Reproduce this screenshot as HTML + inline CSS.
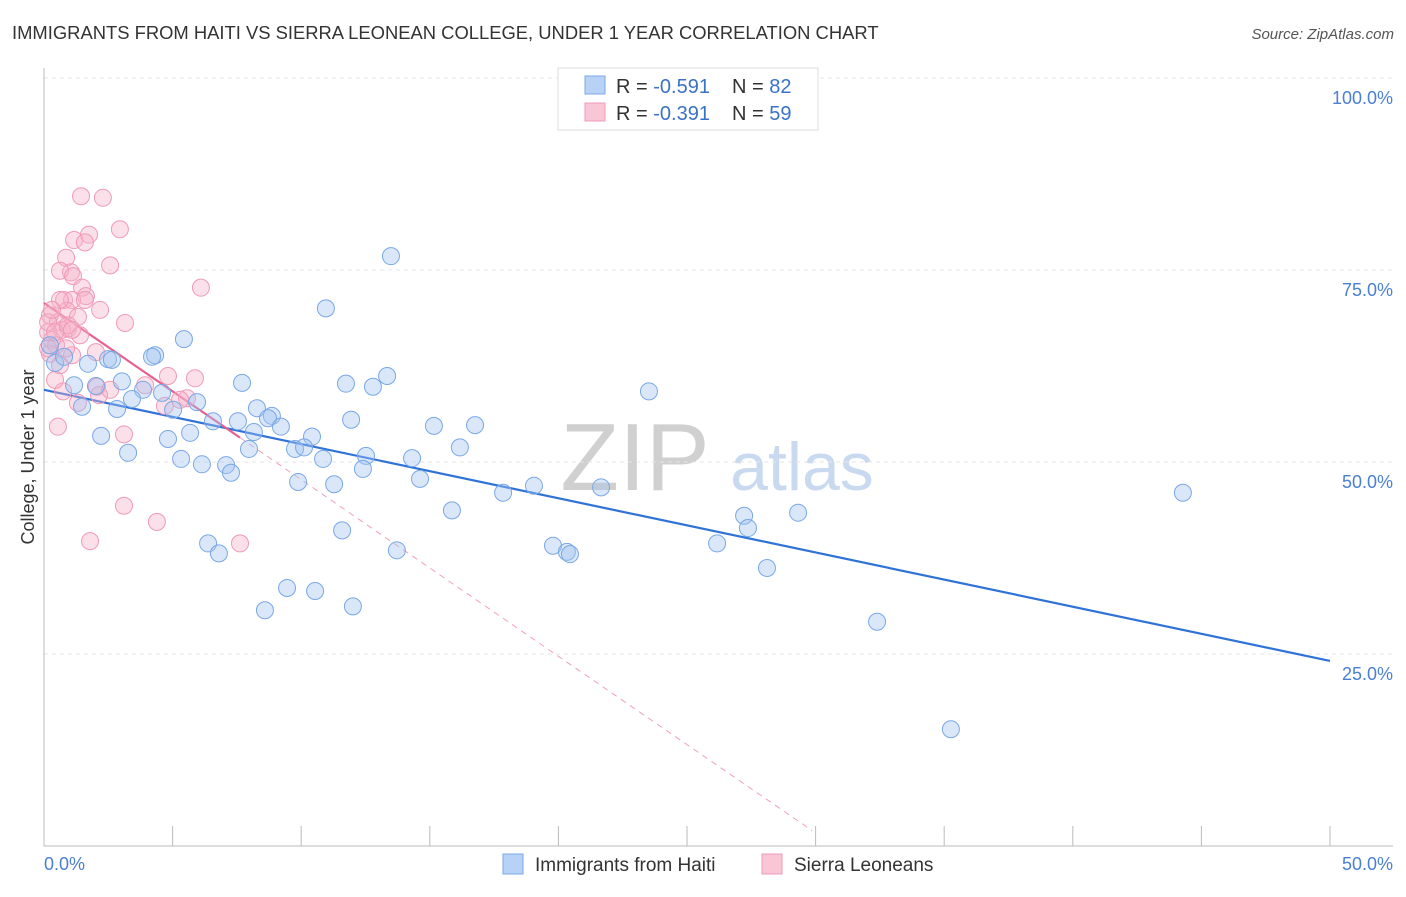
<!DOCTYPE html>
<html><head><meta charset="utf-8"><style>
body{margin:0;background:#fff;font-family:"Liberation Sans",sans-serif;}
svg text{font-family:"Liberation Sans",sans-serif;}
</style></head><body>
<svg id="chart" width="1406" height="892" xmlns="http://www.w3.org/2000/svg">
<text x="12" y="39" font-size="18.4" fill="#333">IMMIGRANTS FROM HAITI VS SIERRA LEONEAN COLLEGE, UNDER 1 YEAR CORRELATION CHART</text>
<text x="1394" y="39" font-size="15" fill="#555" text-anchor="end" font-style="italic">Source: ZipAtlas.com</text>
<text x="635" y="490" font-size="96" fill="#d0d0d0" font-family="Liberation Serif" text-anchor="middle">ZIP</text>
<text x="802" y="490" font-size="68" fill="#c9daf0" text-anchor="middle">atlas</text>
<text transform="translate(34,457) rotate(-90)" font-size="18" fill="#333" text-anchor="middle">College, Under 1 year</text>
<g id="grid"></g><g id="axes"></g><g id="lines"></g><g id="pts"></g>
<g>
<rect x="558" y="68" width="260" height="62" fill="#fff" stroke="#ddd"/>
<rect x="585" y="76" width="20" height="18" fill="#b8d2f5" stroke="#7aa8e6"/>
<text x="616" y="93" font-size="20" fill="#333">R = <tspan fill="#3a72c8">-0.591</tspan></text>
<text x="732" y="93" font-size="20" fill="#333">N = <tspan fill="#3a72c8">82</tspan></text>
<rect x="585" y="103" width="20" height="18" fill="#f9c6d6" stroke="#f09ab8"/>
<text x="616" y="120" font-size="20" fill="#333">R = <tspan fill="#3a72c8">-0.391</tspan></text>
<text x="732" y="120" font-size="20" fill="#333">N = <tspan fill="#3a72c8">59</tspan></text>
</g>
<g>
<rect x="503" y="854" width="20" height="20" fill="#b8d2f5" stroke="#7aa8e6"/>
<text x="535" y="871" font-size="19" fill="#333">Immigrants from Haiti</text>
<rect x="762" y="854" width="20" height="20" fill="#f9c6d6" stroke="#f09ab8"/>
<text x="794" y="871" font-size="19" fill="#333">Sierra Leoneans</text>
</g>
</svg>
<script>
const blueX=[13.49,10.96,5.44,4.32,4.20,2.49,2.64,1.71,0.43,0.78,0.23,3.03,1.17,2.02,7.70,11.74,13.34,12.79,3.85,4.59,5.95,23.52,1.48,2.84,3.42,5.02,8.28,8.86,8.71,11.94,7.54,6.57,9.21,16.76,15.16,8.16,2.22,5.68,4.82,10.42,16.17,3.27,5.33,6.14,7.08,7.27,7.97,9.76,10.11,10.85,12.52,14.31,12.40,14.62,9.88,11.28,17.85,19.05,21.66,44.28,15.86,27.22,29.32,27.37,11.59,26.17,19.79,20.33,20.45,6.38,6.80,13.72,28.11,9.45,10.54,12.01,8.59,32.39,35.26];
const blueY=[76.8,70.0,66.0,63.9,63.7,63.4,63.3,62.8,62.9,63.7,65.2,60.5,60.0,59.9,60.3,60.2,61.2,59.8,59.4,59.0,57.8,59.2,57.2,56.9,58.2,56.8,57.0,56.0,55.7,55.5,55.3,55.3,54.6,54.8,54.7,53.9,53.4,53.8,53.0,53.3,51.9,51.2,50.4,49.7,49.6,48.6,51.7,51.7,51.9,50.4,50.8,50.5,49.1,47.8,47.4,47.1,46.0,46.9,46.7,46.0,43.7,43.0,43.4,41.4,41.1,39.4,39.1,38.3,38.0,39.4,38.1,38.5,36.2,33.6,33.2,31.2,30.7,29.2,15.2];
const pinkX=[1.44,2.29,2.95,1.75,1.17,1.59,0.86,2.57,1.05,0.62,1.13,6.10,1.48,1.63,0.78,1.09,2.18,0.89,1.32,0.23,3.15,0.54,0.93,0.70,1.40,0.16,0.31,0.47,0.23,2.02,1.09,0.62,4.82,3.93,5.87,0.74,2.06,2.14,1.32,4.70,5.56,0.54,3.11,3.11,4.39,1.79,7.62,0.16,0.43,0.86,0.16,0.93,1.59,0.43,0.62,0.31,1.09,2.57,5.29];
const pinkY=[84.6,84.4,80.3,79.6,78.9,78.6,76.6,75.6,74.7,74.9,74.2,72.7,72.7,71.6,71.1,71.1,69.8,69.7,68.9,69.1,68.1,68.2,67.4,67.2,66.5,66.9,65.9,65.2,64.1,64.3,63.9,62.6,61.2,60.0,60.9,59.2,59.8,58.7,57.7,57.3,58.3,54.6,53.6,44.3,42.2,39.7,39.4,68.2,66.9,64.8,64.8,67.8,71.1,60.7,71.1,69.8,67.2,59.4,58.1];
const blueFit=[59.4,-0.706];
const pinkFit=[70.7,-2.3];
const yTicks=[25,50,75,100];
const yTickLabels=["25.0%","50.0%","75.0%","100.0%"];
const xTicks=[0,5,10,15,20,25,30,35,40,45,50];

const NS="http://www.w3.org/2000/svg";
const X=v=>44+v/50*1286, Y=v=>846-v/100*768;
function mk(p,t,a){const e=document.createElementNS(NS,t);for(const k in a)e.setAttribute(k,a[k]);document.getElementById(p).appendChild(e);return e;}
yTicks.forEach((t,i)=>{
 const g=mk('grid','line',{x1:44,x2:1393,y1:Y(t),y2:Y(t),stroke:'#e6e6e6','stroke-dasharray':'4,4'});
 
 
 const l=mk('grid','text',{x:1393,y:Y(t)+26,'font-size':18,fill:'#4a80d2','text-anchor':'end'});
 l.textContent=yTickLabels[i];
 
 
});
const ax=mk('axes','line',{x1:44,x2:44,y1:68,y2:846,stroke:'#bbb'});


const bx=mk('axes','line',{x1:44,x2:1393,y1:846,y2:846,stroke:'#bbb'});


xTicks.forEach(t=>{const k=mk('axes','line',{x1:X(t),x2:X(t),y1:826,y2:846,stroke:'#bbb'});
 
 });
const x0=mk('axes','text',{x:44,y:870,'font-size':18,fill:'#4a80d2'});x0.textContent=xTicks[0].toFixed(1)+'%';


const x1=mk('axes','text',{x:1393,y:870,'font-size':18,fill:'#4a80d2','text-anchor':'end'});x1.textContent=xTicks[xTicks.length-1].toFixed(1)+'%';


function pts(xs,ys,fill,stroke,name){xs.forEach((v,i)=>{const c=mk('pts','circle',{cx:X(v),cy:Y(ys[i]),r:8.5,fill:fill,stroke:stroke,'stroke-width':1});
 
 });}
pts(pinkX,pinkY,'rgba(246,178,200,0.4)','#f09ab8','point-sierra');
pts(blueX,blueY,'rgba(160,196,240,0.4)','#7aa8e6','point-haiti');
const bl=mk('lines','line',{x1:X(0),y1:Y(blueFit[0]),x2:X(50),y2:Y(blueFit[0]+blueFit[1]*50),stroke:'#2f72d8','stroke-width':2.2});


const pe=Math.max(...pinkX);
const ps=mk('lines','line',{x1:X(0),y1:Y(pinkFit[0]),x2:X(pe),y2:Y(pinkFit[0]+pinkFit[1]*pe),stroke:'#e8608e','stroke-width':2.2});


const xe=(2-pinkFit[0])/pinkFit[1];
const pd=mk('lines','line',{x1:X(pe),y1:Y(pinkFit[0]+pinkFit[1]*pe),x2:X(xe),y2:Y(2),stroke:'#f0a0bc','stroke-width':1,'stroke-dasharray':'6,5'});


</script>
</body></html>
